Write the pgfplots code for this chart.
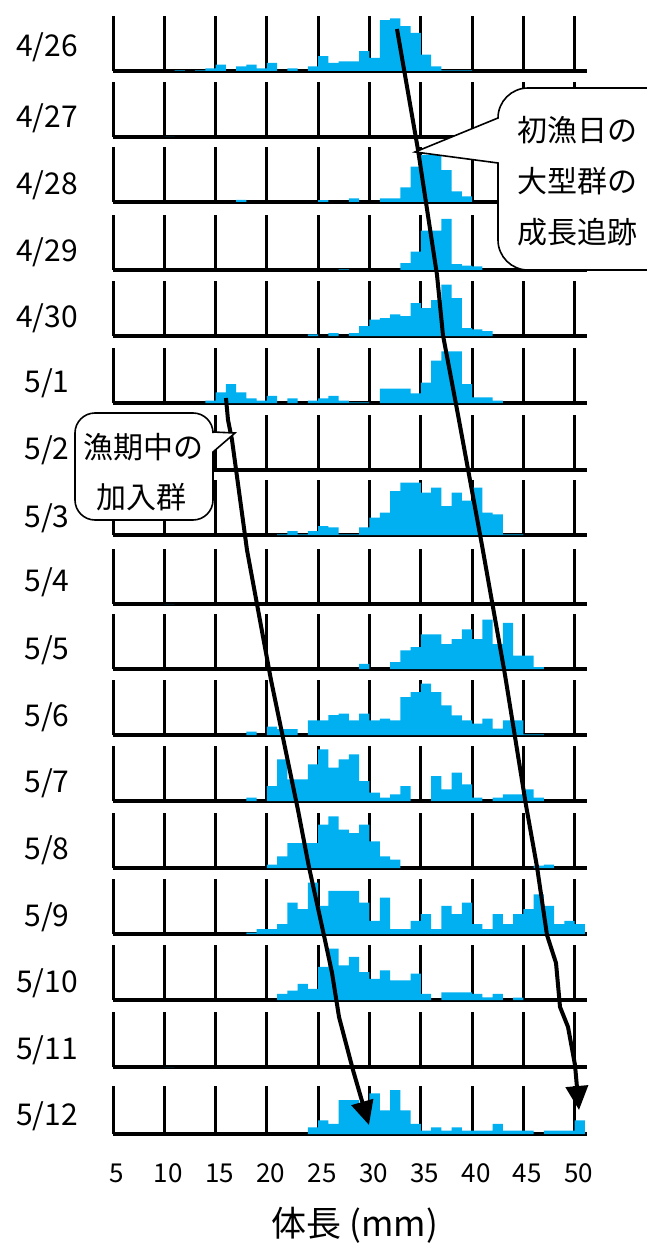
\documentclass[border=0pt]{standalone}
\usepackage{fontspec}
\setmainfont{Noto Sans CJK JP}
\usepackage{pgfplots}
\pgfplotsset{compat=1.18}
\usetikzlibrary{arrows.meta}
\definecolor{barc}{RGB}{0,176,240}
\newcommand{\dfont}{\fontsize{30}{30}\selectfont}
\newcommand{\bfont}{\fontsize{30}{30}\selectfont}
\pgfplotsset{panel/.style={scale only axis, width=474pt, height=55pt, anchor=south west,
  xmin=5, xmax=51.2, ymin=0, enlargelimits=false,
  axis x line*=bottom, axis y line=none,
  axis line style={-, line width=3.2pt, black},
  xtick={5,10,...,50}, xticklabels={}, major tick length=0pt,
  xmajorgrids, grid style={black, line width=3pt},
  clip=false}}
\newcommand{\panel}[4]{%
\begin{axis}[panel, at={(113pt,-#1pt)}, height=#3pt, ymax=#2]
\addplot[ybar, bar width=1, bar shift=0pt, fill=barc, draw=none] coordinates {#4};
\end{axis}}
\begin{document}
\begin{tikzpicture}
\useasboundingbox (0,0) rectangle (647pt,-1246pt);
\clip (0,0) rectangle (647pt,-1246pt);
% 4/26
\panel{71}{164}{55}{(11.5,2)(13.5,2)(14.5,8)(15.5,19)(17.5,14)(18.5,19)(19.5,8)(20.5,24)(22.5,8)(24.5,14)(25.5,44)(26.5,24)(27.5,29)(28.5,29)(29.5,59)(30.5,39)(31.5,152)(32.5,157)(33.5,134)(34.5,114)(35.5,49)(36.5,14)(37.5,2)(38.5,2)(39.5,2)}
% 4/27
\panel{137}{164}{55}{(10.5,0)}
% 4/28
\panel{202}{155}{55}{(17.5,6)(25.5,5)(28.5,10)(31.5,10)(32.5,10)(33.5,41)(34.5,100)(35.5,133)(36.5,133)(37.5,90)(38.5,30)(39.5,16)}
% 4/29
\panel{270}{168}{55}{(27.5,2)(33.5,21)(34.5,56)(35.5,120)(36.5,120)(37.5,156)(38.5,18)(39.5,13)(40.5,11)}
% 4/30
\panel{336}{165}{55}{(24.5,5)(26.5,9)(28.5,9)(29.5,30)(30.5,49)(31.5,54)(32.5,65)(33.5,60)(34.5,99)(35.5,84)(36.5,108)(37.5,154)(38.5,114)(39.5,24)(40.5,20)(41.5,15)}
% 5/1
\panel{403}{167}{55}{(14.5,7)(15.5,32)(16.5,57)(17.5,32)(18.5,14)(19.5,7)(20.5,22)(22.5,14)(24.5,7)(25.5,14)(26.5,22)(27.5,7)(28.5,2)(29.5,2)(31.5,44)(32.5,44)(33.5,44)(34.5,29)(35.5,62)(36.5,129)(37.5,157)(38.5,157)(39.5,57)(40.5,17)(41.5,17)(42.5,7)}
% 5/2
\panel{470}{164}{55}{(10.5,0)}
% 5/3
\panel{535}{165}{55}{(21.5,2)(22.5,12)(23.5,2)(24.5,12)(25.5,27)(26.5,23)(27.5,2)(28.5,2)(29.5,23)(30.5,52)(31.5,67)(32.5,132)(33.5,157)(34.5,157)(35.5,127)(36.5,142)(37.5,87)(38.5,127)(39.5,103)(40.5,142)(41.5,67)(42.5,62)(43.5,2)(44.5,2)}
% 5/4
\panel{604}{164}{55}{(10.5,0)}
% 5/5
\panel{669}{168}{55}{(29.5,16)(32.5,21)(33.5,57)(34.5,67)(35.5,106)(36.5,106)(37.5,76)(38.5,91)(39.5,121)(40.5,91)(41.5,151)(42.5,76)(43.5,141)(44.5,41)(45.5,41)(46.5,6)}
% 5/6
\panel{735}{165}{55}{(18.5,10)(20.5,25)(21.5,18)(22.5,18)(24.5,44)(25.5,44)(26.5,60)(27.5,64)(28.5,44)(29.5,64)(30.5,44)(31.5,49)(32.5,44)(33.5,114)(34.5,129)(35.5,154)(36.5,129)(37.5,89)(38.5,59)(39.5,44)(40.5,34)(41.5,49)(42.5,19)(43.5,44)(44.5,44)(45.5,2)(46.5,2)}
% 5/7
\panel{801}{165}{55}{(18.5,10)(20.5,45)(21.5,125)(22.5,65)(23.5,65)(24.5,110)(25.5,155)(26.5,100)(27.5,125)(28.5,140)(29.5,60)(30.5,25)(31.5,10)(32.5,20)(33.5,45)(36.5,75)(37.5,35)(38.5,85)(39.5,50)(40.5,10)(42.5,10)(43.5,20)(44.5,20)(45.5,35)(46.5,10)}
% 5/8
\panel{868}{165}{55}{(20.5,10)(21.5,35)(22.5,75)(23.5,75)(24.5,75)(25.5,130)(26.5,155)(27.5,115)(28.5,105)(29.5,130)(30.5,80)(31.5,35)(32.5,25)(46.5,7)(47.5,10)}
% 5/9
\panel{934}{166}{55}{(18.5,4)(19.5,15)(20.5,15)(21.5,30)(22.5,95)(23.5,75)(24.5,155)(25.5,85)(26.5,130)(27.5,130)(28.5,130)(29.5,95)(30.5,40)(31.5,110)(32.5,15)(33.5,15)(34.5,40)(35.5,60)(36.5,15)(37.5,85)(38.5,60)(39.5,95)(40.5,30)(41.5,15)(42.5,60)(43.5,30)(44.5,60)(45.5,75)(46.5,120)(47.5,85)(48.5,30)(49.5,40)(50.5,30)}
% 5/10
\panel{1000}{163}{55}{(21.5,18)(22.5,28)(23.5,48)(24.5,33)(25.5,98)(26.5,152)(27.5,103)(28.5,128)(29.5,83)(30.5,63)(31.5,88)(32.5,58)(33.5,58)(34.5,78)(35.5,18)(37.5,23)(38.5,23)(39.5,23)(40.5,18)(41.5,8)(42.5,18)(44.5,7)}
% 5/11
\panel{1067}{164}{55}{(10.5,0)}
% 5/12
\begin{axis}[panel, at={(113pt,-1134pt)}, height=48pt, ymax=142,
  xticklabels={5,10,15,20,25,30,35,40,45,50},
  xticklabel style={font=\fontsize{26}{26}\selectfont, anchor=center, yshift=-39pt, xshift=4pt}]
\addplot[ybar, bar width=1, bar shift=0pt, fill=barc, draw=none] coordinates {(24.5,20)(25.5,40)(26.5,30)(27.5,100)(28.5,100)(29.5,90)(30.5,120)(31.5,70)(32.5,130)(33.5,70)(34.5,30)(35.5,10)(36.5,20)(37.5,10)(38.5,20)(39.5,10)(40.5,10)(41.5,10)(42.5,30)(43.5,10)(44.5,10)(45.5,10)(47.5,10)(48.5,10)(49.5,10)(50.5,40)};
\end{axis}
% date labels
\node[font=\dfont] at (47pt,-47pt) {4/26};
\node[font=\dfont] at (47pt,-118pt) {4/27};
\node[font=\dfont] at (47pt,-185pt) {4/28};
\node[font=\dfont] at (47pt,-252pt) {4/29};
\node[font=\dfont] at (47pt,-318pt) {4/30};
\node[font=\dfont] at (47pt,-383pt) {5/1};
\node[font=\dfont] at (47pt,-450pt) {5/2};
\node[font=\dfont] at (47pt,-518pt) {5/3};
\node[font=\dfont] at (47pt,-582pt) {5/4};
\node[font=\dfont] at (47pt,-650pt) {5/5};
\node[font=\dfont] at (47pt,-717pt) {5/6};
\node[font=\dfont] at (47pt,-783pt) {5/7};
\node[font=\dfont] at (47pt,-850pt) {5/8};
\node[font=\dfont] at (47pt,-917pt) {5/9};
\node[font=\dfont] at (47pt,-983pt) {5/10};
\node[font=\dfont] at (47pt,-1050pt) {5/11};
\node[font=\dfont] at (47pt,-1116pt) {5/12};
% axis title
\node[font=\fontsize{35}{35}\selectfont] at (355pt,-1225pt) {体長 (mm)};
% arrows overlay
\begin{axis}[scale only axis, width=474pt, height=1246pt, at={(113pt,-1246pt)}, anchor=south west,
  xmin=5, xmax=51.2, ymin=0, ymax=1246, y dir=reverse, hide axis, clip=false]
\addplot[black, no marks, line width=4pt, line join=round, -{Triangle[length=24pt,width=22pt]}] coordinates {
(32.68,29)(34.73,150)(36.58,275)(37.16,335)(38.63,415)(40.96,545)(43.21,675)(45.25,805)(46.33,867)(47.30,935)(48.18,963)(48.57,1007)(49.35,1027)(50.03,1065)(50.42,1110)};
\addplot[black, no marks, line width=4pt, line join=round, -{Triangle[length=24pt,width=22pt]}] coordinates {
(16.01,398)(16.21,420)(16.60,440)(18.06,550)(20.40,680)(23.03,810)(24.10,867)(25.66,940)(26.35,973)(27.03,1017)(28.39,1070)(29.95,1125)};
\end{axis}
% callout 1
\draw[line width=1.6pt, fill=white] (498pt,-118pt) -- (415pt,-152pt) -- (498pt,-163pt) -- (498pt,-240pt)
  arc[start angle=180,end angle=270,radius=30pt] -- (700pt,-270pt) -- (700pt,-88pt) -- (528pt,-88pt)
  arc[start angle=90,end angle=180,radius=30pt] -- cycle;
\node[font=\bfont, anchor=west] at (514pt,-130pt) {初漁日の};
\node[font=\bfont, anchor=west] at (514pt,-181pt) {大型群の};
\node[font=\bfont, anchor=west] at (514pt,-232pt) {成長追跡};
% callout 2
\draw[line width=1.6pt, fill=white] (213pt,-432pt) -- (235pt,-433pt) -- (213pt,-452pt) -- (213pt,-500pt)
  arc[start angle=0,end angle=-90,radius=20pt] -- (95pt,-520pt)
  arc[start angle=270,end angle=180,radius=20pt] -- (75pt,-433pt)
  arc[start angle=180,end angle=90,radius=20pt] -- (193pt,-413pt)
  arc[start angle=90,end angle=0,radius=20pt] -- cycle;
\node[font=\bfont] at (143pt,-447pt) {漁期中の};
\node[font=\bfont] at (141pt,-497pt) {加入群};
\end{tikzpicture}
\end{document}
